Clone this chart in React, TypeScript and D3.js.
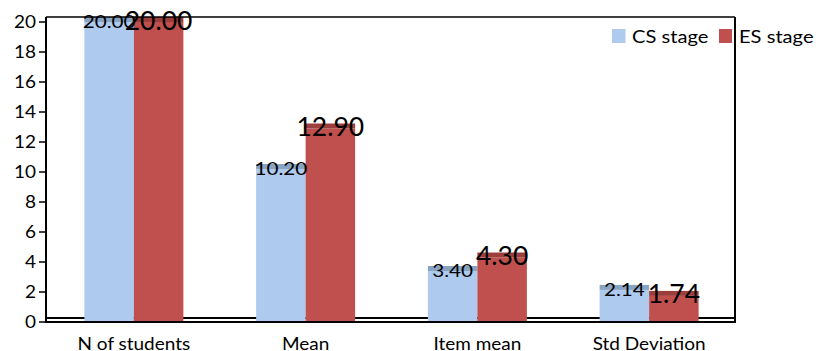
import React from "react";
import * as d3 from "d3";

const categories = ["N of students", "Mean", "Item mean", "Std Deviation"];
const csValues = [20.0, 10.2, 3.4, 2.14];
const esValues = [20.0, 12.9, 4.3, 1.74];
const seriesNames = ["CS stage", "ES stage"];
const yTicks = [0, 2, 4, 6, 8, 10, 12, 14, 16, 18, 20];

const W = 816;
const H = 351;
const left = 46;
const right = 735;
const top = 17;
const bottom = 322;

const CS_COLOR = "#AECBEF";
const CS_TOP = "#89A3C2";
const ES_COLOR = "#C0504D";
const ES_TOP = "#9B3E3C";
const FONT = "Lato, 'Open Sans', sans-serif";
const SX = 1.15;

function SText({ x, y, children, size, anchor = "middle", sx = SX }: any) {
  return (
    <text
      transform={`translate(${x},${y}) scale(${sx},1)`}
      textAnchor={anchor}
      fontFamily={FONT}
      fontSize={size}
      fill="#000"
    >
      {children}
    </text>
  );
}

export default function App() {
  const x = d3.scalePoint<string>().domain(categories).range([left + 2, right]).padding(0.5);
  const y = d3.scaleLinear().domain([0, 20]).range([bottom, 22]);
  const bw = 49.5;
  const depth = 5;

  return (
    <svg width={W} height={H} style={{ position: "absolute", left: 0, top: 0, background: "#fff" }}>
      {/* floor line */}
      <line x1={left} x2={right} y1={318} y2={318} stroke="#000" strokeWidth={2} />
      {/* bars */}
      {categories.map((c, i) => {
        const cx = x(c)!;
        const cs = csValues[i];
        const es = esValues[i];
        return (
          <g key={c}>
            <rect x={cx - bw} y={y(cs)} width={bw} height={bottom - y(cs)} fill={CS_COLOR} />
            <rect x={cx - bw} y={y(cs) - depth} width={bw} height={depth} fill={CS_TOP} />
            <rect x={cx} y={y(es)} width={bw} height={bottom - y(es)} fill={ES_COLOR} />
            <rect x={cx} y={y(es) - depth} width={bw} height={depth} fill={ES_TOP} />
          </g>
        );
      })}
      {/* frame */}
      <line x1={left} x2={right} y1={top} y2={top} stroke="#000" strokeWidth={1.5} />
      <line x1={right} x2={right} y1={top} y2={bottom + 1} stroke="#000" strokeWidth={2} />
      <line x1={left} x2={left} y1={top} y2={bottom + 1} stroke="#000" strokeWidth={2} />
      <line x1={left} x2={right} y1={bottom} y2={bottom} stroke="#000" strokeWidth={2} />
      {/* y ticks */}
      {yTicks.map((t) => (
        <g key={t}>
          <line x1={39} x2={left} y1={y(t)} y2={y(t)} stroke="#000" strokeWidth={1.5} />
          <SText x={36} y={y(t) + 6} size={16.5} anchor="end">
            {t}
          </SText>
        </g>
      ))}
      {/* category labels */}
      {categories.map((c) => (
        <SText key={c} x={x(c)!} y={349.5} size={16.5}>
          {c}
        </SText>
      ))}
      {/* value labels */}
      {categories.map((c, i) => {
        const cx = x(c)!;
        return (
          <g key={c + "lab"}>
            <SText x={cx - bw / 2} y={y(csValues[i]) + 6.3} size={18}>
              {csValues[i].toFixed(2)}
            </SText>
            <SText x={cx + bw / 2} y={y(esValues[i]) - 2 + 9.5} size={26.5} sx={1}>
              {esValues[i].toFixed(2)}
            </SText>
          </g>
        );
      })}
      {/* legend */}
      <rect x={612} y={29} width={13.5} height={14} fill={CS_COLOR} />
      <SText x={632} y={43} size={17.5} anchor="start">
        {seriesNames[0]}
      </SText>
      <rect x={719} y={29} width={13} height={14} fill={ES_COLOR} />
      <SText x={739} y={43} size={17.5} anchor="start">
        {seriesNames[1]}
      </SText>
    </svg>
  );
}
